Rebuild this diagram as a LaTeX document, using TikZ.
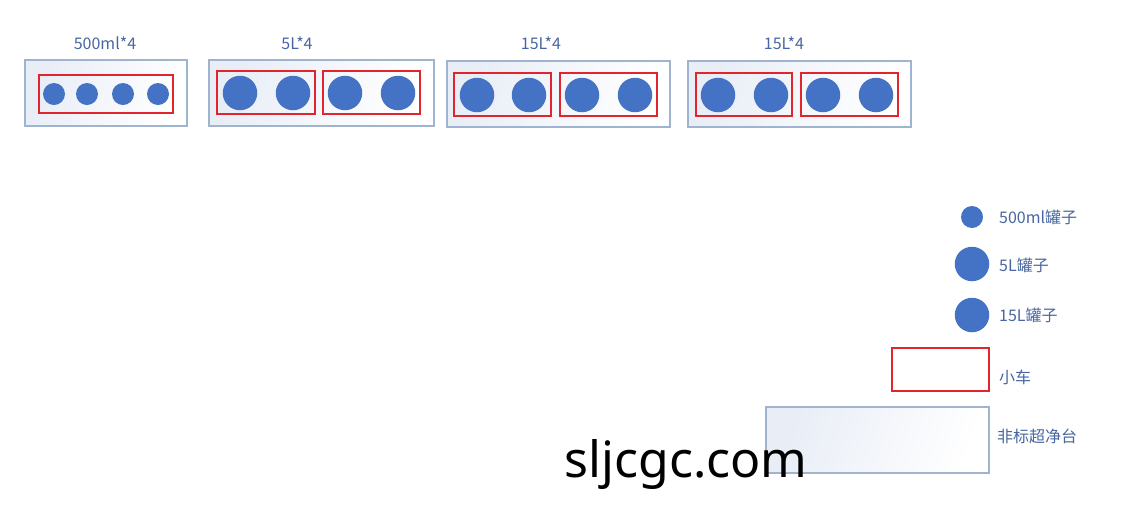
\documentclass[tikz,border=0pt]{standalone}
\usepackage{fontspec}
\setmainfont{Noto Sans CJK SC}
\newfontfamily\wmfont{Noto Sans}
\definecolor{tankblue}{HTML}{4472C4}
\definecolor{cartred}{HTML}{E0262C}
\definecolor{panelline}{HTML}{9FB4CE}
\definecolor{panelfill}{HTML}{E8EDF6}
\definecolor{labelblue}{HTML}{4866A0}
\tikzset{
  panel/.style={draw=panelline, line width=1.3pt, left color=panelfill, right color=white, shading angle=70, rectangle, inner sep=0pt},
  cart/.style={draw=cartred, line width=1.1pt, rectangle, inner sep=0pt},
  tank/.style={circle, fill=tankblue, inner sep=0pt},
  small/.style={tank, minimum size=22pt},
  big/.style={tank, minimum size=34.5pt},
  lbl/.style={text=labelblue, font=\fontsize{16}{18}\selectfont, inner sep=0pt},
}
\begin{document}
\begin{tikzpicture}[x=1pt,y=-1pt]
\useasboundingbox[fill=white] (0,0) rectangle (1128,507);
% panels
\node[panel, minimum width=162pt, minimum height=66pt] (p1) at (106,93) {};
\node[panel, minimum width=225pt, minimum height=66pt] (p2) at (321.5,93) {};
\node[panel, minimum width=223pt, minimum height=66pt] (p3) at (558.5,94) {};
\node[panel, minimum width=223pt, minimum height=66pt] (p4) at (799.5,94) {};
% carts
\node[cart, minimum width=134pt, minimum height=38pt] (c1) at (106,94) {};
\node[cart, minimum width=98pt, minimum height=43pt] (c2a) at (266,92.5) {};
\node[cart, minimum width=97pt, minimum height=43pt] (c2b) at (371.5,92.5) {};
\node[cart, minimum width=97pt, minimum height=43pt] (c3a) at (502.5,94.5) {};
\node[cart, minimum width=97pt, minimum height=43pt] (c3b) at (608.5,94.5) {};
\node[cart, minimum width=96pt, minimum height=43pt] (c4a) at (744,94.5) {};
\node[cart, minimum width=97pt, minimum height=43pt] (c4b) at (849.5,94.5) {};
% tanks
\node[small] (t11) at (54,94) {};
\node[small] (t12) at (87,94) {};
\node[small] (t13) at (123,94) {};
\node[small] (t14) at (158,94) {};
\node[big] (t21) at (240,93) {};
\node[big] (t22) at (293,93) {};
\node[big] (t23) at (345,93) {};
\node[big] (t24) at (398,93) {};
\node[big] (t31) at (477,95) {};
\node[big] (t32) at (529,95) {};
\node[big] (t33) at (582,95) {};
\node[big] (t34) at (635,95) {};
\node[big] (t41) at (718,95) {};
\node[big] (t42) at (771,95) {};
\node[big] (t43) at (823,95) {};
\node[big] (t44) at (876,95) {};
% titles
\node[lbl] (h1) at (105,43) {500ml*4};
\node[lbl] (h2) at (297,43) {5L*4};
\node[lbl] (h3) at (541,43) {15L*4};
\node[lbl] (h4) at (784,43) {15L*4};
% legend
\node[small] (ls) at (972,217) {};
\node[big] (l5) at (972,264) {};
\node[big] (l15) at (972,315) {};
\node[cart, minimum width=97pt, minimum height=43pt] (lc) at (940.5,369.5) {};
\node[panel, minimum width=223pt, minimum height=66pt] (lp) at (877.5,440) {};
\node[lbl, anchor=west] (lst) at (999,217) {500ml罐子};
\node[lbl, anchor=west] (l5t) at (999,265) {5L罐子};
\node[lbl, anchor=west] (l15t) at (999,315) {15L罐子};
\node[lbl, anchor=west] (lct) at (999,377) {小车};
\node[lbl, anchor=west] (lpt) at (997,436) {非标超净台};
% watermark
\node[anchor=base, inner sep=0pt, font=\wmfont\fontsize{50}{54}\selectfont] (wm) at (686,477) {sljcgc.com};
\end{tikzpicture}
\end{document}
